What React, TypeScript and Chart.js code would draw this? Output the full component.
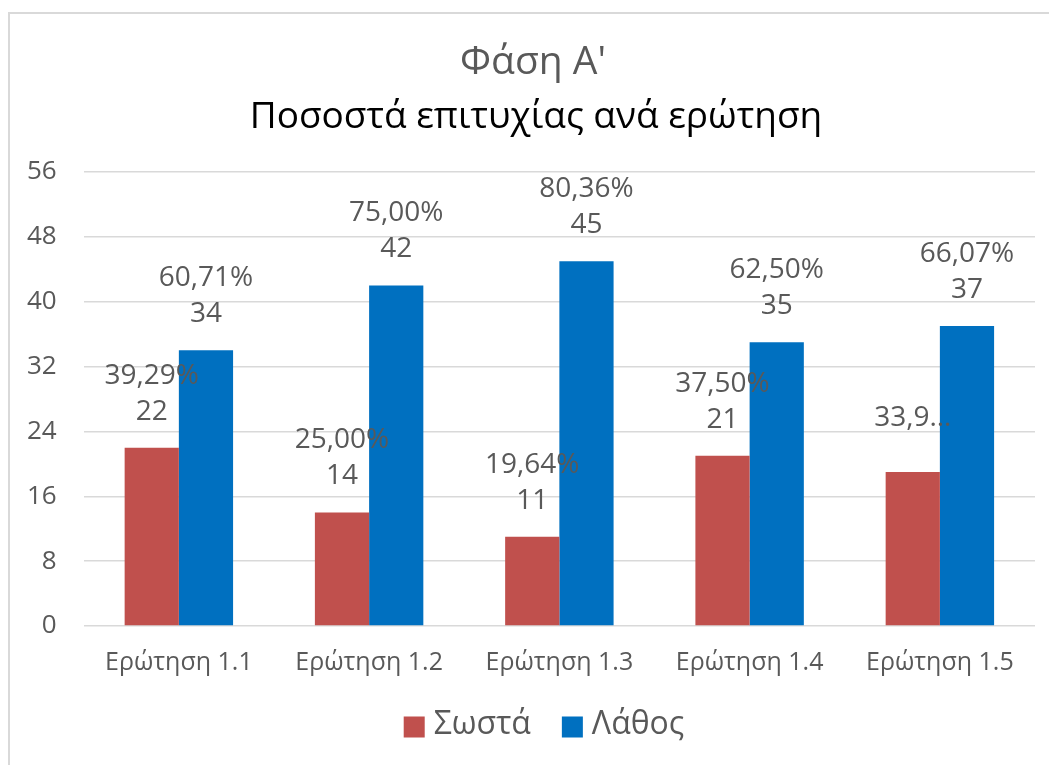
import React, { useEffect, useRef } from "react";
import { Chart, registerables } from "chart.js";

Chart.register(...registerables);

const categories = ["Ερώτηση 1.1", "Ερώτηση 1.2", "Ερώτηση 1.3", "Ερώτηση 1.4", "Ερώτηση 1.5"];
const correctValues = [22, 14, 11, 21, 19];
const wrongValues = [34, 42, 45, 35, 37];
const correctLabels = [["39,29%", "22"], ["25,00%", "14"], ["19,64%", "11"], ["37,50%", "21"], ["33,9…"]];
const wrongLabels = [["60,71%", "34"], ["75,00%", "42"], ["80,36%", "45"], ["62,50%", "35"], ["66,07%", "37"]];
const yTicks = [0, 8, 16, 24, 32, 40, 48, 56];
const titleLine1 = "Φάση Α'";
const titleLine2 = "Ποσοστά επιτυχίας ανά ερώτηση";

const FONT = "'Open Sans', 'Noto Sans', sans-serif";
const GRAY = "#595959";
const RED = "#C0504D";
const BLUE = "#0070C0";

const labelPlugin = {
  id: "barLabels",
  afterDatasetsDraw(chart: any) {
    const ctx = chart.ctx;
    const sets = [correctLabels, wrongLabels];
    ctx.save();
    ctx.font = `28px ${FONT}`;
    ctx.fillStyle = GRAY;
    ctx.textAlign = "center";
    ctx.textBaseline = "middle";
    chart.data.datasets.forEach((ds: any, di: number) => {
      const meta = chart.getDatasetMeta(di);
      meta.data.forEach((bar: any, i: number) => {
        const lines = sets[di][i];
        const lh = 36;
        const center = bar.y - 54;
        const startY = center - ((lines.length - 1) * lh) / 2;
        lines.forEach((t: string, li: number) => {
          ctx.fillText(t, bar.x, startY + li * lh);
        });
      });
    });
    ctx.restore();
  },
};

const titleLegendPlugin = {
  id: "titleLegend",
  afterDraw(chart: any) {
    const ctx = chart.ctx;
    ctx.save();
    ctx.textAlign = "center";
    ctx.textBaseline = "middle";
    ctx.fillStyle = GRAY;
    ctx.font = `39px ${FONT}`;
    ctx.fillText(titleLine1, 533, 63);
    ctx.fillStyle = "#000000";
    ctx.font = `37px ${FONT}`;
    ctx.fillText(titleLine2, 536, 117);

    // legend
    ctx.font = `32px ${FONT}`;
    const items = chart.data.datasets.map((d: any) => ({ text: d.label, color: d.backgroundColor }));
    const box = 21;
    const gapText = 9;
    const gapItem = 31;
    const widths = items.map((it: any) => box + gapText + ctx.measureText(it.text).width);
    const total = widths.reduce((a: number, b: number) => a + b, 0) + gapItem * (items.length - 1);
    let x = 544 - total / 2;
    const cy = 727;
    ctx.textAlign = "left";
    items.forEach((it: any, i: number) => {
      ctx.fillStyle = it.color;
      ctx.fillRect(x, cy - box / 2, box, box);
      ctx.fillStyle = GRAY;
      ctx.fillText(it.text, x + box + gapText, cy - 2);
      x += widths[i] + gapItem;
    });
    ctx.restore();
  },
};

export default function App() {
  const ref = useRef<HTMLCanvasElement | null>(null);
  useEffect(() => {
    if (!ref.current) return;
    const chart = new Chart(ref.current, {
      type: "bar",
      data: {
        labels: categories,
        datasets: [
          { label: "Σωστά", data: correctValues, backgroundColor: RED, barPercentage: 1, categoryPercentage: 0.57 },
          { label: "Λάθος", data: wrongValues, backgroundColor: BLUE, barPercentage: 1, categoryPercentage: 0.57 },
        ],
      },
      options: {
        animation: false,
        responsive: false,
        maintainAspectRatio: false,
        layout: { padding: { left: 0, right: 14, top: 172, bottom: 73 } },
        plugins: {
          title: { display: false },
          subtitle: { display: false },
          legend: { display: false },
          tooltip: { enabled: false },
        },
        scales: {
          x: {
            grid: { display: false },
            border: { display: false },
            ticks: { color: GRAY, font: { family: FONT, size: 25 }, padding: 14 },
          },
          y: {
            min: 0,
            max: 56,
            afterBuildTicks: (axis: any) => {
              axis.ticks = yTicks.map((v) => ({ value: v }));
            },
            grid: { color: "#d9d9d9", lineWidth: 1.5, drawTicks: false },
            border: { display: false },
            ticks: { color: GRAY, font: { family: FONT, size: 26 }, padding: 27 },
          },
        },
      },
      plugins: [labelPlugin, titleLegendPlugin],
    });
    return () => chart.destroy();
  }, []);

  return (
    <div style={{ position: "absolute", left: 0, top: 0, width: 1049, height: 765, background: "#fff", overflow: "hidden" }}>
      <div
        style={{
          position: "absolute",
          left: 8,
          top: 12,
          width: 1100,
          height: 800,
          borderLeft: "2px solid #d9d9d9",
          borderTop: "2px solid #d9d9d9",
        }}
      />
      <canvas ref={ref} width={1049} height={765} style={{ position: "absolute", left: 0, top: 0 }} />
    </div>
  );
}
